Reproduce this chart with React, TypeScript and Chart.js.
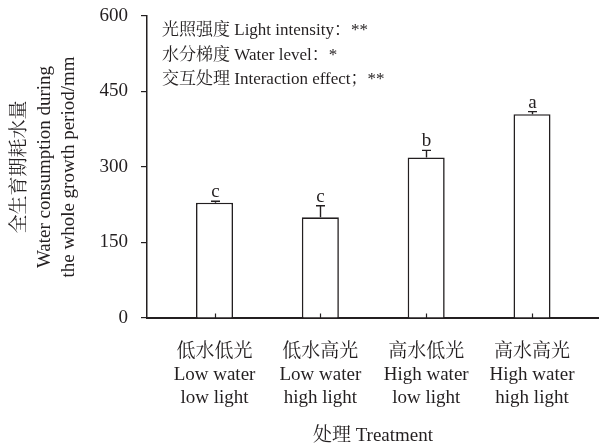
import React, { useEffect, useRef } from "react";
import { Chart, registerables } from "chart.js";

Chart.register(...registerables);

// ---- data ----
const treatmentsZh = ["低水低光", "低水高光", "高水低光", "高水高光"];
const treatmentsEn1 = ["Low water", "Low water", "High water", "High water"];
const treatmentsEn2 = ["low light", "high light", "low light", "high light"];
const waterUse = [229, 200, 319, 405];
const waterUseErr = [3, 23, 14, 5];
const sigLetters = ["c", "c", "b", "a"];
const yTickValues = [0, 150, 300, 450, 600];
const noteLines = [
  "光照强度 Light intensity：**",
  "水分梯度 Water level：*",
  "交互处理 Interaction effect；**",
];
const yTitleLines = [
  "全生育期耗水量",
  "Water consumption during",
  "the whole growth period/mm",
];
const xTitle = "处理 Treatment";

const INK = "#231f20";
const FONT = "'Liberation Serif', 'Times New Roman', 'Noto Serif CJK SC', 'Noto Sans CJK SC', serif";

const marksPlugin = {
  id: "marks",
  afterDatasetsDraw(chart: any) {
    const { ctx, scales } = chart;
    const x = scales.x;
    const y = scales.y;
    ctx.save();
    ctx.strokeStyle = INK;
    ctx.fillStyle = INK;
    // error bars + letters
    waterUse.forEach((v, i) => {
      const px = Math.round(x.getPixelForValue(i)) + 0.5;
      const base = y.getPixelForValue(v);
      const top = y.getPixelForValue(v + waterUseErr[i]);
      ctx.lineWidth = 1.4;
      ctx.beginPath();
      ctx.moveTo(px, base);
      ctx.lineTo(px, top);
      ctx.moveTo(px - 4.5, top);
      ctx.lineTo(px + 4.5, top);
      ctx.stroke();
      ctx.font = `19px ${FONT}`;
      ctx.textAlign = "center";
      ctx.textBaseline = "alphabetic";
      ctx.fillText(sigLetters[i], px, top - 4);
    });
    // inward x ticks
    const y0 = y.getPixelForValue(0);
    ctx.lineWidth = 1.2;
    x.ticks.forEach((t: any) => {
      const px = Math.round(x.getPixelForValue(t.value)) + 0.5;
      ctx.beginPath();
      ctx.moveTo(px, y0);
      ctx.lineTo(px, y0 - 4.5);
      ctx.stroke();
    });
    // notes
    ctx.font = `17px ${FONT}`;
    ctx.textAlign = "left";
    ctx.textBaseline = "middle";
    const nx = chart.chartArea.left + 15;
    noteLines.forEach((line, i) => {
      ctx.fillText(line, nx, chart.chartArea.top + 15 + i * 24.5);
    });
    ctx.restore();
  },
};

export default function App() {
  const canvasRef = useRef<HTMLCanvasElement | null>(null);

  useEffect(() => {
    document.body.style.margin = "0";
    const canvas = canvasRef.current;
    if (!canvas) return;
    const chart = new Chart(canvas, {
      type: "bar",
      data: {
        datasets: [
          {
            data: waterUse.map((v, i) => ({ x: i, y: v })),
            backgroundColor: "#ffffff",
            borderColor: INK,
            borderWidth: 1.6,
            barPercentage: 0.35,
            categoryPercentage: 1,
          },
        ],
      },
      options: {
        animation: false,
        responsive: true,
        maintainAspectRatio: false,
        layout: { padding: { top: 16, right: 0, left: 0, bottom: 0 } },
        plugins: {
          legend: { display: false },
          tooltip: { enabled: false },
        },
        scales: {
          x: {
            type: "linear",
            offset: false,
            min: -0.638,
            max: 3.633,
            afterBuildTicks: (axis: any) => {
              axis.ticks = treatmentsZh.map((_, i) => ({ value: i }));
            },
            afterFit: (axis: any) => {
              axis.height = 129;
            },
            grid: { display: false },
            border: { display: true, color: INK, width: 2 },
            ticks: {
              autoSkip: false,
              maxRotation: 0,
              padding: 15,
              color: INK,
              font: { family: FONT, size: 19, lineHeight: "23px" as any },
              callback: (value: any) => {
                const i = Number(value);
                return [treatmentsZh[i], treatmentsEn1[i], treatmentsEn2[i]];
              },
            },
            title: {
              display: true,
              text: xTitle,
              color: INK,
              font: { family: FONT, size: 19 },
              padding: { top: 0, bottom: 0 },
            },
          },
          y: {
            min: 0,
            max: 600,
            afterBuildTicks: (axis: any) => {
              axis.ticks = yTickValues.map((v) => ({ value: v }));
            },
            afterFit: (axis: any) => {
              axis.width = 147;
            },
            grid: {
              display: true,
              drawOnChartArea: false,
              drawTicks: true,
              tickLength: 6,
              color: INK,
              lineWidth: 1.2,
            },
            border: { display: true, color: INK, width: 1.5 },
            ticks: {
              padding: 13,
              color: INK,
              font: { family: FONT, size: 19, lineHeight: 0.3 },
            },
            title: {
              display: true,
              text: yTitleLines,
              color: INK,
              font: { family: FONT, size: 19, lineHeight: "24.5px" as any },
              padding: { top: 8, bottom: 0 },
            },
          },
        },
      },
      plugins: [marksPlugin],
    });
    return () => chart.destroy();
  }, []);

  return (
    <div style={{ position: "relative", width: 599, height: 447 }}>
      <canvas ref={canvasRef} />
    </div>
  );
}
